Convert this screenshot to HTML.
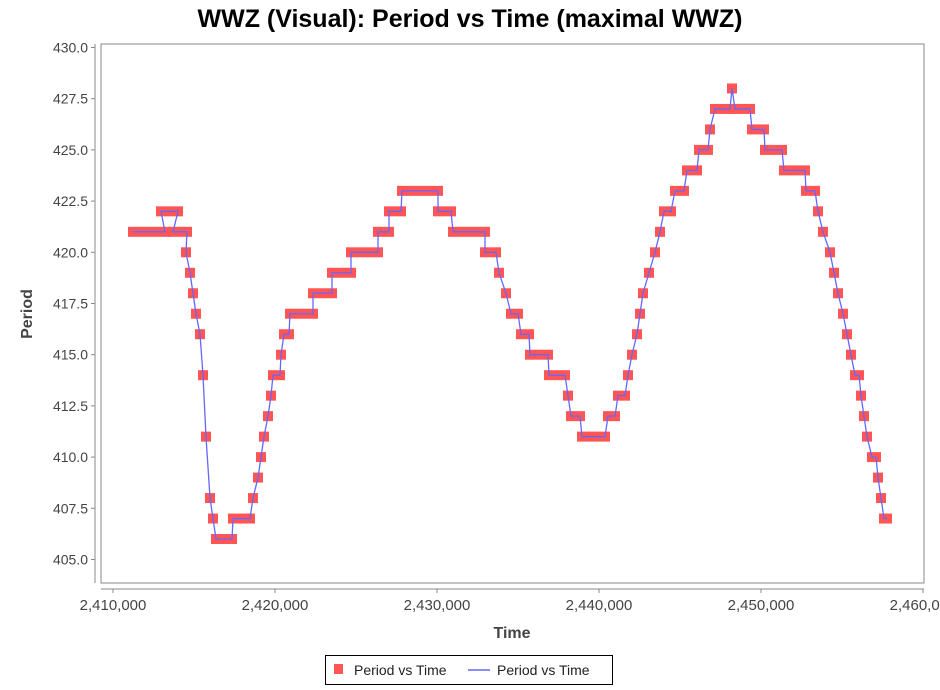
<!DOCTYPE html><html><head><style>
body{margin:0;background:#fff;width:940px;height:685px;overflow:hidden;font-family:"Liberation Sans",sans-serif}
</style></head><body>
<svg id="s" width="940" height="685" xmlns="http://www.w3.org/2000/svg" font-family="Liberation Sans, sans-serif">
<text x="470" y="27" text-anchor="middle" font-size="25" font-weight="bold" fill="#000">WWZ (Visual): Period vs Time (maximal WWZ)</text>
<rect x="101" y="44" width="823" height="539" fill="#fff" stroke="#888" stroke-width="1"/>
<line x1="95" y1="44" x2="95" y2="583" stroke="#888"/>
<line x1="101" y1="589" x2="924" y2="589" stroke="#888"/>
<g id="yt" font-size="14" fill="#444" text-anchor="end"></g>
<g id="xt" font-size="15" fill="#444" text-anchor="middle"></g>
<text transform="translate(32,314) rotate(-90)" text-anchor="middle" font-size="16" font-weight="bold" fill="#444">Period</text>
<text x="512" y="638" text-anchor="middle" font-size="16" font-weight="bold" fill="#444">Time</text>
<g id="d"></g>
<rect x="325.5" y="655.5" width="287" height="29" fill="#fff" stroke="#000"/>
<rect x="334" y="664" width="9" height="10" fill="#ff5555"/>
<text x="354" y="675" font-size="14" fill="#222">Period vs Time</text>
<line x1="468" y1="670" x2="490" y2="670" stroke="#6666ff" stroke-width="1.5"/>
<text x="497" y="675" font-size="14" fill="#222">Period vs Time</text>
</svg>
<script>
var NS="http://www.w3.org/2000/svg";
function el(t,a,p){var e=document.createElementNS(NS,t);for(var k in a)e.setAttribute(k,a[k]);document.getElementById(p).appendChild(e);return e;}
function Y(p){return 559.5-(p-405)*20.48;}
for(var v=405;v<=430;v+=2.5){var y=Y(v);el("line",{x1:91,y1:y,x2:95,y2:y,stroke:"#888"},"yt");var t=el("text",{x:88,y:y+5},"yt");t.textContent=v.toFixed(1);}
for(var i=0;i<6;i++){var x=113+i*162;el("line",{x1:x,y1:589,x2:x,y2:593,stroke:"#888"},"xt");var t=el("text",{x:x,y:610},"xt");t.textContent="2,"+(410+i*10)+",000";}
var S=[[421,133,165],[422,161,178],[421,173,187],[420,186,186],[419,190,190],[418,193,193],[417,196,196],[416,200,200],[414,203,203],[411,206,206],[408,210,210],[407,213,213],[406,216,232],[407,233,250],[408,253,253],[409,258,258],[410,261,261],[411,264,264],[412,268,268],[413,271,271],[414,273,280],[415,281,281],[416,284,289],[417,290,313],[418,313,332],[419,332,351],[420,351,378],[421,378,389],[422,389,401],[423,402,438],[422,438,451],[421,453,485],[420,485,496],[419,499,499],[418,506,506],[417,511,518],[416,521,529],[415,530,548],[414,549,565],[413,568,568],[412,571,580],[411,582,605],[412,608,615],[413,618,625],[414,628,628],[415,632,632],[416,637,637],[417,640,640],[418,643,643],[419,649,649],[420,655,655],[421,660,660],[422,664,671],[423,675,684],[424,687,697],[425,699,708],[426,710,710],[427,715,730],[428,732,732],[427,735,750],[426,752,764],[425,765,782],[424,784,805],[423,806,815],[422,818,818],[421,823,823],[420,830,830],[419,834,834],[418,838,838],[417,843,843],[416,847,847],[415,851,851],[414,855,859],[413,861,861],[412,864,864],[411,867,867],[410,872,876],[409,878,878],[408,881,881],[407,884,887]];
var pts=[];
S.forEach(function(s){var y=Y(s[0]);el("rect",{x:s[1]-5,y:y-5,width:s[2]-s[1]+10,height:10,fill:"#ff5555"},"d");pts.push(s[1]+","+y);if(s[2]>s[1])pts.push(s[2]+","+y);});
el("polyline",{points:pts.join(" "),fill:"none",stroke:"#6666ff","stroke-width":1.3},"d");
</script>
</body></html>
